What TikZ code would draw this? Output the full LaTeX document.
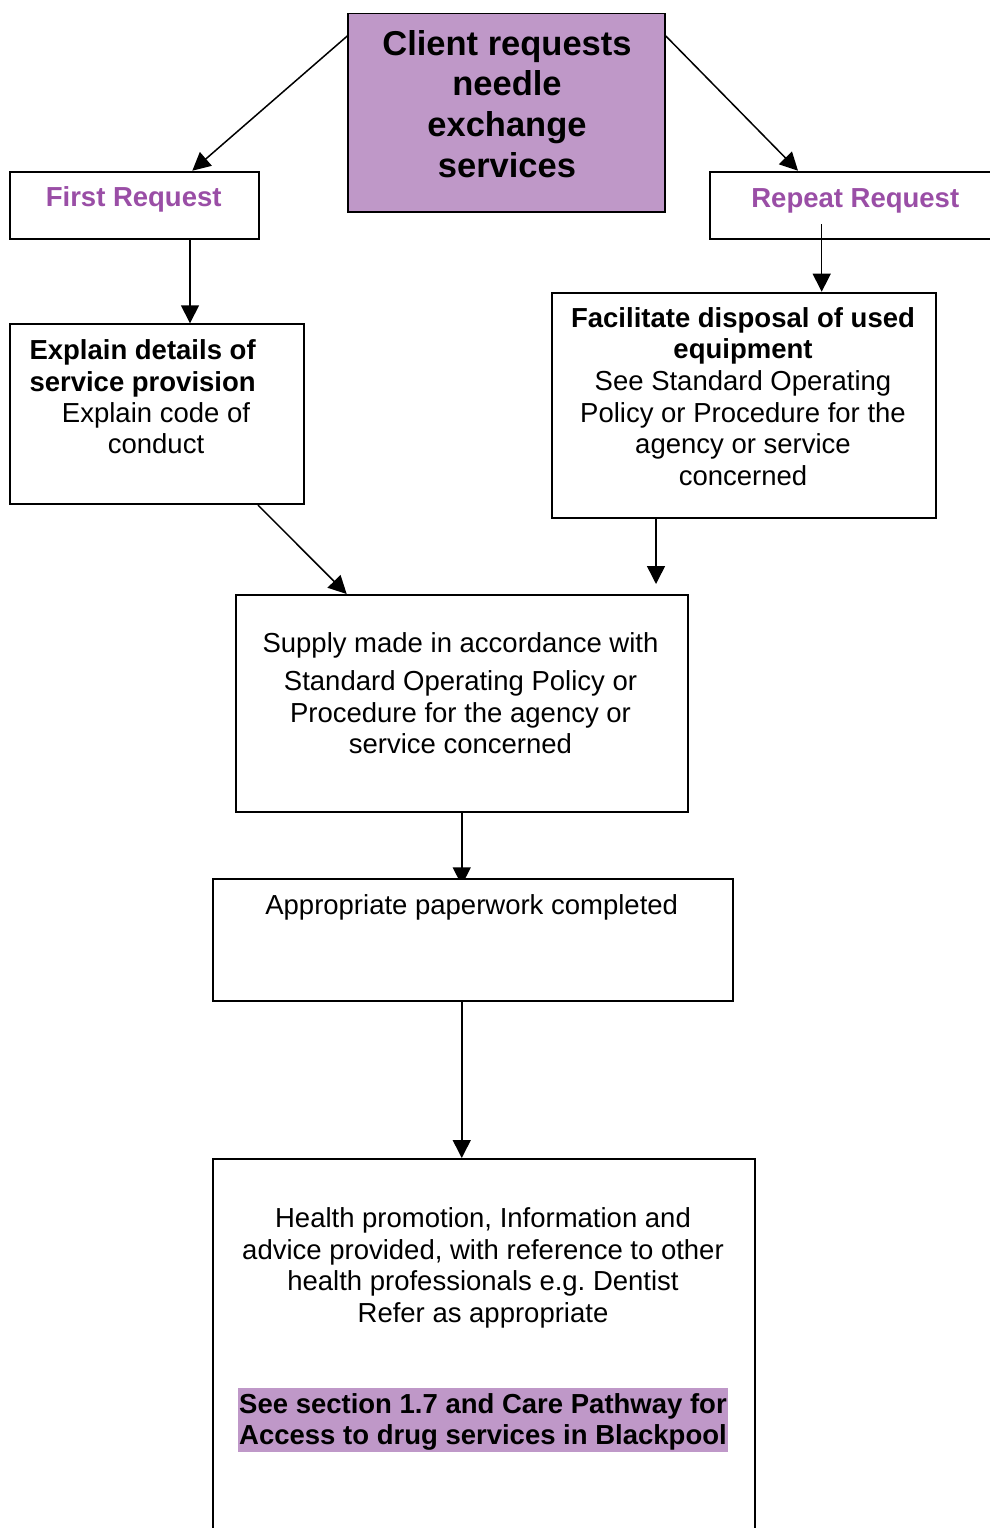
\documentclass[tikz,border=0pt]{standalone}
\usepackage{fontspec}
\setmainfont{Liberation Sans}
\usetikzlibrary{arrows.meta,calc,backgrounds}
\frenchspacing

\definecolor{lilac}{HTML}{BF98C8}
\definecolor{plum}{HTML}{9A4EA6}

% Multi-line text nodes are placed by the baseline of their last line.
\tikzset{
  box/.style={draw=black, line width=1.8pt, fill=white, rectangle,
              inner sep=0pt, anchor=north west},
  arr/.style={-{Triangle[length=18pt,width=18pt]}, line width=1.5pt},
  body/.style={anchor=base, inner sep=0pt, align=center,
               font=\fontsize{27.5}{31.5}\selectfont},
  strong/.style={body, font=\fontsize{27.5}{31.5}\selectfont\bfseries},
  title/.style={anchor=base, inner sep=0pt, align=center,
                font=\fontsize{34.5}{40.6}\selectfont\bfseries},
  reqlabel/.style={strong, text=plum},
}

\begin{document}
\begin{tikzpicture}[x=1pt, y=-1pt]
\useasboundingbox (0,0) rectangle (990,1528);
\clip (0,0) rectangle (990,1528);

% boxes
\node[box, fill=lilac, minimum width=316.7pt, minimum height=198pt] (client) at (347.3,12.7) {};
\node[box, minimum width=248.4pt, minimum height=67.6pt] (first) at (9.3,170.7) {};
\node[box, minimum width=320pt, minimum height=67.6pt] (repeat) at (709,170.7) {};
\node[box, minimum width=293.4pt, minimum height=180pt] (explain) at (9.3,323.3) {};
\node[box, minimum width=384pt, minimum height=225.6pt] (facilitate) at (551,291.7) {};
\node[box, minimum width=451.7pt, minimum height=216.7pt] (supply) at (235,594) {};
\node[box, minimum width=520pt, minimum height=121.7pt] (paper) at (212.3,878.3) {};
\node[box, minimum width=542pt, minimum height=420pt] (health) at (212,1158) {};
\node[fill=lilac, inner sep=0pt, anchor=north west, minimum width=490pt, minimum height=64.5pt] (marker) at (238,1387.3) {};

% texts
\node[title] (tclient) at (507,177) {Client requests\\needle\\exchange\\services};
\node[reqlabel] (tfirst) at (133.7,206.5) {First Request};
\node[reqlabel] (trepeat) at (855.3,207) {Repeat Request};
\node[strong, anchor=base west, align=left] (texplainA) at (29.3,391) {Explain details of\\service provision};
\node[body] (texplainB) at (156,453.5) {Explain code of\\conduct};
\node[strong] (tfacA) at (743,358.5) {Facilitate disposal of used\\equipment};
\node[body] (tfacB) at (743,485) {See Standard Operating\\Policy or Procedure for the\\agency or service\\concerned};
\node[body] (tsupply) at (460.5,753.5) {Supply made in accordance with\\[6.5pt]Standard Operating Policy or\\Procedure for the agency or\\service concerned};
\node[body] (tpaper) at (471.7,914) {Appropriate paperwork completed};
\node[body] (thealth) at (483,1322) {Health promotion, Information and\\advice provided, with reference to other\\health professionals e.g. Dentist\\Refer as appropriate};
\node[strong] (tmarker) at (483,1444.5) {See section 1.7 and Care Pathway for\\Access to drug services in Blackpool};

% connectors
\coordinate (clientL) at ([yshift=-23.3pt]client.north west);
\coordinate (clientR) at ([yshift=-23.3pt]client.north east);
\coordinate (firstIn) at ([xshift=183pt]first.north west);
\coordinate (repeatIn) at ([xshift=89pt]repeat.north west);
\coordinate (firstOut) at ([xshift=180.7pt]first.south west);
\coordinate (repeatOut) at ([xshift=112.7pt,yshift=-53.3pt]repeat.north west);
\coordinate (explainOut) at ([xshift=248.7pt]explain.south west);
\coordinate (supplyIn) at ([xshift=111.7pt]supply.north west);
\coordinate (facOut) at ([xshift=105pt]facilitate.south west);

\draw[arr] (clientL) -- (firstIn);
\draw[arr] (clientR) -- (repeatIn);
\draw[arr] (firstOut) -- (firstOut |- explain.north);
\draw[arr] (repeatOut) -- (repeatOut |- facilitate.north);
\draw[arr] (explainOut) -- (supplyIn);
\draw[arr] (facOut) -- ($(facOut |- supply.north)+(0,-10)$);
\draw[arr] (supply.south |- paper.south) -- (supply.south |- health.north);
\begin{pgfonlayer}{background}
\draw[arr] (supply.south) -- ($(supply.south |- paper.north)+(0,7)$);
\end{pgfonlayer}
\end{tikzpicture}
\end{document}
